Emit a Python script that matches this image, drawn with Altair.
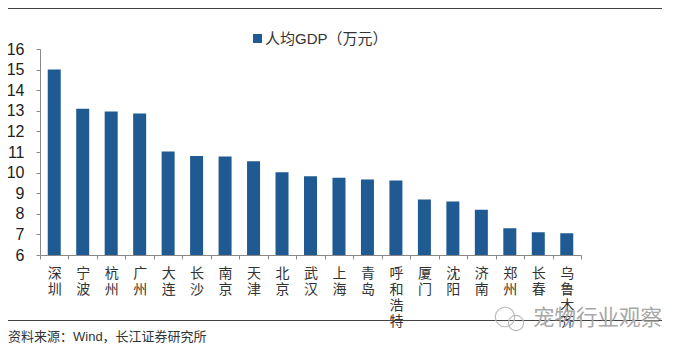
import altair as alt
import pandas as pd

cities = ["深圳","宁波","杭州","广州","大连","长沙","南京","天津","北京","武汉","上海","青岛","呼和浩特","厦门","沈阳","济南","郑州","长春","乌鲁木齐"]
gdp = [15.0,13.1,12.97,12.87,11.03,10.8,10.78,10.55,10.02,9.82,9.75,9.67,9.62,8.7,8.6,8.2,7.3,7.1,7.05]
y_ticks = list(range(6,17))
series = "人均GDP（万元）"
source = "资料来源：Wind，长江证券研究所"
watermark = "宠物行业观察"

df = pd.DataFrame({"city":cities,"gdp":gdp,"series":[series]*len(cities)})
CJK = "Noto Sans CJK SC"
MIXED = "Liberation Sans, Noto Sans CJK SC"

bars = alt.Chart(df).mark_bar(size=13, clip=True).encode(
    x=alt.X("city:N", sort=cities, title=None,
            scale=alt.Scale(paddingInner=0, paddingOuter=0),
            axis=alt.Axis(tickBand="extent", labelAngle=0, domainColor="#888888", tickColor="#888888",
                          tickSize=4, labelFont=CJK, labelFontSize=14, labelColor="#333333",
                          labelPadding=7, labelLineHeight=16, labelBaseline="top",
                          labelExpr="split(datum.label,'')", labelOverlap=False, grid=False)),
    y=alt.Y("gdp:Q", title=None, scale=alt.Scale(domain=[6,16], nice=False),
            axis=alt.Axis(values=y_ticks, domainColor="#888888", tickColor="#888888", tickSize=4,
                          labelFont="Liberation Sans", labelFontSize=16, labelColor="#222222",
                          labelPadding=12, grid=False, format="d")),
    color=alt.Color("series:N", scale=alt.Scale(range=["#1f5b92"]),
                    legend=alt.Legend(title=None, orient="none", legendX=210, legendY=-18,
                                      symbolType="square", symbolSize=81, labelFont=MIXED,
                                      labelFontSize=15, labelColor="#333333", symbolOffset=0,
                                      labelOffset=0)),
)

def rule(y, x1=-32, x2=622):
    return alt.Chart(pd.DataFrame({"a":[0]})).mark_rule(color="#444444", strokeWidth=1).encode(
        x=alt.value(x1), x2=alt.value(x2), y=alt.value(y))

def label(text, x, y, size, color, font=CJK):
    return alt.Chart(pd.DataFrame({"t":[text]})).mark_text(
        align="left", baseline="middle", font=font, fontSize=size, color=color).encode(
        x=alt.value(x), y=alt.value(y), text="t:N")

def ring(x, y, size):
    return alt.Chart(pd.DataFrame({"a":[0]})).mark_point(
        shape="circle", filled=False, color="#bbbbbb", strokeWidth=1.2, opacity=1).encode(
        x=alt.value(x), y=alt.value(y), size=alt.value(size))

chart = alt.layer(
    bars, rule(-40.5), rule(271.5), ring(465, 268, 380), ring(476, 274, 230),
    label(watermark, 493, 270, 21.5, "#a8a8a8"),
    label(source, -32, 288, 13, "#333333", MIXED),
).properties(
    width=541, height=206,
    padding={"left":32,"top":41,"right":97,"bottom":89},
    autosize=alt.AutoSizeParams(type="none"),
).configure_view(stroke=None)

chart.save("out.html", embed_options={"renderer":"svg","actions":False})
